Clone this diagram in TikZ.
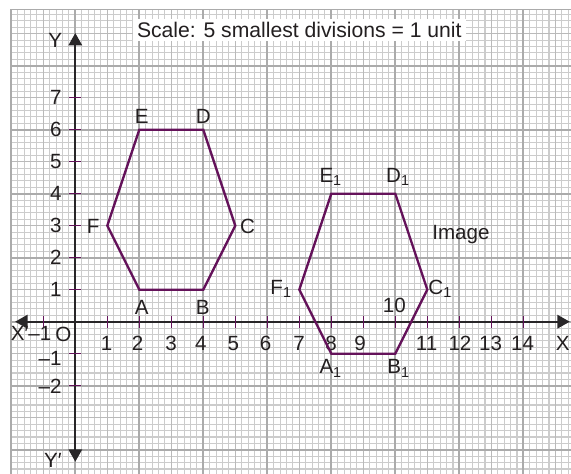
\documentclass[tikz,border=0pt]{standalone}
\usepackage{fontspec}
\setmainfont{Liberation Sans}
\usetikzlibrary{arrows.meta}
\definecolor{hexpurple}{RGB}{100,18,90}
\definecolor{axisdark}{RGB}{40,38,40}
\definecolor{txt}{RGB}{35,31,32}
\tikzset{
  minorgrid/.style={line width=1.05pt, draw=black!20},
  unitgrid/.style={line width=1.2pt, draw=black!27},
  majorgrid/.style={line width=1.5pt, draw=black!33},
  axisline/.style={line width=1.6pt, draw=axisdark},
  tickmark/.style={line width=1.4pt, draw=hexpurple},
  hexline/.style={line width=2.1pt, draw=hexpurple, line join=miter},
  lbl/.style={anchor=base, inner sep=0pt, text=txt, font=\fontsize{18.3}{20}\selectfont},
  ylbl/.style={lbl, anchor=base east},
}
\begin{document}
\begin{tikzpicture}
\useasboundingbox (-2.353,-4.728) rectangle (15.490,10.053);
% grid paper
\fill[white] (-2.353,-4.728) rectangle (15.490,10.053);
\draw[minorgrid] (-2,-4.8) grid[step=0.2] (15.6,9.76);
\draw[unitgrid] (-2,-4.8) grid[step=1] (15.6,9.76);
\draw[majorgrid] (-2,-4.8) grid[step=2] (15.6,9.76);
\draw[majorgrid] (-2,-4.8) -- (-2,9.76) -- (15.6,9.76);
% scale note
\node[lbl, fill=white, inner xsep=4pt, inner ysep=3pt, font=\fontsize{18.8}{20}\selectfont] (scale) at (7.0,8.89) {Scale: 5 smallest divisions = 1 unit};
% axes
\coordinate (xl) at (-1.88,0);
\coordinate (xr) at (15.45,0);
\coordinate (yt) at (0,9.02);
\coordinate (yb) at (0,-4.375);
\draw[axisline, {Triangle[length=11pt,width=12pt]}-{Triangle[length=11pt,width=12pt]}] (xl) -- (xr);
\draw[axisline, {Triangle[length=11pt,width=12pt]}-{Triangle[length=11pt,width=12pt]}] (yb) -- (yt);
% ticks
\foreach \i in {-1,1,2,...,14} \draw[tickmark] (\i,-0.19) -- (\i,0.19);
\foreach \j in {-2,-1,1,2,...,7} \draw[tickmark] (-0.19,\j) -- (0.19,\j);
% x labels
\foreach \i/\xx in {1/0.98,2/1.95,3/2.99,4/3.92,5/4.94,6/5.95,7/6.99,8/7.99,9/8.9,11/10.98,12/12.02,13/12.98,14/13.98}
  \node[lbl] (xn\i) at (\xx,-0.90) {\i};
\node[lbl] (xn10) at (9.97,0.29) {10};
\node[lbl] (xlab) at (15.23,-0.90) {X};
\node[lbl] (xplab) at (-1.38,-0.58) {X′–1};
\node[lbl] (olab) at (-0.375,-0.61) {O};
% y labels
\foreach \j in {1,...,7}
  \node[ylbl] (yn\j) at (-0.42,\j-0.215) {\j};
\node[ylbl] (ynm1) at (-0.42,-1.36) {–1};
\node[ylbl] (ynm2) at (-0.42,-2.23) {–2};
\node[lbl] (ylab) at (-0.63,8.57) {Y};
\node[lbl] (yplab) at (-0.7,-4.55) {Y′};
% object hexagon
\coordinate (A) at (2,1);
\coordinate (B) at (4,1);
\coordinate (C) at (5,3);
\coordinate (D) at (4,6);
\coordinate (E) at (2,6);
\coordinate (F) at (1,3);
\draw[hexline] (A) -- (B) -- (C) -- (D) -- (E) -- (F) -- cycle;
% image hexagon
\coordinate (A1) at (8,-1);
\coordinate (B1) at (10,-1);
\coordinate (C1) at (11,1);
\coordinate (D1) at (10,4);
\coordinate (E1) at (8,4);
\coordinate (F1) at (7,1);
\draw[hexline] (A1) -- (B1) -- (C1) -- (D1) -- (E1) -- (F1) -- cycle;
% vertex labels
\node[lbl] (lE) at (2.075,6.18) {E};
\node[lbl] (lD) at (4.0,6.18) {D};
\node[lbl] (lF) at (0.56,2.75) {F};
\node[lbl] (lC) at (5.38,2.75) {C};
\node[lbl] (lA) at (2.075,0.24) {A};
\node[lbl] (lB) at (3.98,0.24) {B};
\node[lbl] (lE1) at (7.98,4.35) {E\textsubscript{1}};
\node[lbl] (lD1) at (10.08,4.35) {D\textsubscript{1}};
\node[lbl] (lF1) at (6.43,0.86) {F\textsubscript{1}};
\node[lbl] (lC1) at (11.4,0.86) {C\textsubscript{1}};
\node[lbl] (lA1) at (7.98,-1.63) {A\textsubscript{1}};
\node[lbl] (lB1) at (10.1,-1.63) {B\textsubscript{1}};
\node[lbl] (limg) at (12.05,2.57) {Image};
\end{tikzpicture}
\end{document}
